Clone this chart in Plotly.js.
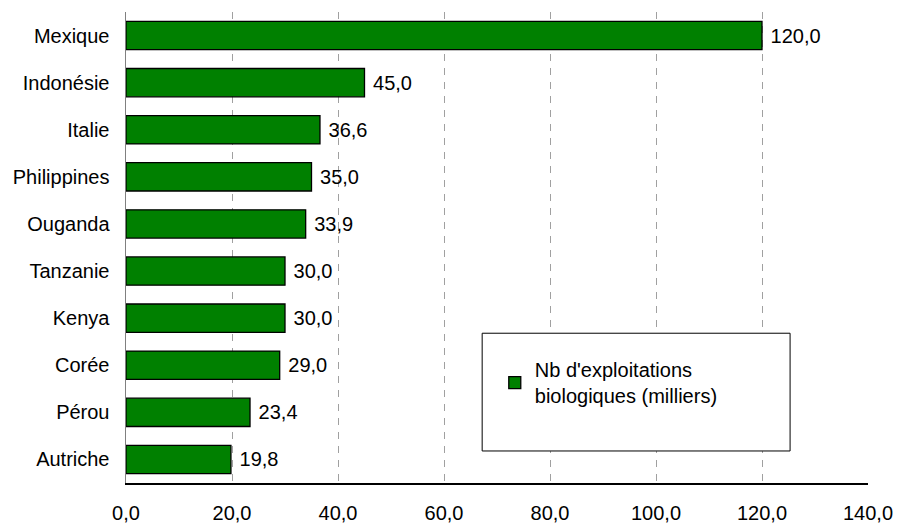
<!DOCTYPE html>
<html>
<head>
<meta charset="utf-8">
<script src="https://cdn.plot.ly/plotly-3.0.1.min.js"></script>
<style>html,body{margin:0;padding:0;background:#fff;}#chart{width:898px;height:524px;}</style>
</head>
<body>
<div id="chart"></div>
<script>
const countries = ["Mexique","Indonésie","Italie","Philippines","Ouganda","Tanzanie","Kenya","Corée","Pérou","Autriche"];
const values = [120.0, 45.0, 36.6, 35.0, 33.9, 30.0, 30.0, 29.0, 23.4, 19.8];
const seriesName = "Nb d'exploitations<br>biologiques (milliers)";
const xTicks = [0,20,40,60,80,100,120,140];

const FONT = "Liberation Sans, Arial, sans-serif";
const FS = 20;

const trace = {
  type: 'bar',
  orientation: 'h',
  y: countries,
  x: values,
  name: seriesName,
  marker: {color: '#008000', line: {color: '#000000', width: 1.3}},
  texttemplate: '\u00a0%{x:.1f}',
  textposition: 'outside',
  cliponaxis: false,
  textfont: {family: FONT, size: FS, color: '#000'},
  showlegend: true,
  hoverinfo: 'x+y'
};

const layout = {
  width: 898, height: 524,
  margin: {l: 126, r: 30, t: 12, b: 41},
  paper_bgcolor: '#fff', plot_bgcolor: '#fff',
  separators: ', ',
  font: {family: FONT, size: FS, color: '#000'},
  bargap: 0.4,
  xaxis: {
    range: [0, 140],
    tickvals: xTicks,
    tickformat: '.1f',
    showgrid: true,
    gridcolor: '#a0a0a0',
    griddash: '7px,7px',
    gridwidth: 1,
    zeroline: false,
    showline: true,
    linecolor: '#000',
    linewidth: 1.5,
    ticks: '',
    ticklabelstandoff: 11,
    tickfont: {family: FONT, size: FS, color: '#000'}
  },
  yaxis: {
    autorange: 'reversed',
    showline: true,
    linecolor: '#808080',
    linewidth: 1.5,
    showgrid: false,
    zeroline: false,
    ticks: '',
    ticklabelstandoff: 11,
    tickfont: {family: FONT, size: FS, color: '#000'}
  },
  shapes: [{
    type: 'rect', xref: 'paper', yref: 'paper',
    x0: 0.48, x1: 0.895, y0: 0.068, y1: 0.318,
    line: {color: '#000', width: 1}, fillcolor: '#fff', layer: 'above'
  }],
  legend: {
    x: 0.497, y: 0.282, xanchor: 'left', yanchor: 'top',
    bgcolor: 'rgba(0,0,0,0)', borderwidth: 0,
    font: {family: FONT, size: FS, color: '#000'}
  }
};

Plotly.newPlot('chart', [trace], layout, {displayModeBar: false, staticPlot: true});
</script>
</body>
</html>
